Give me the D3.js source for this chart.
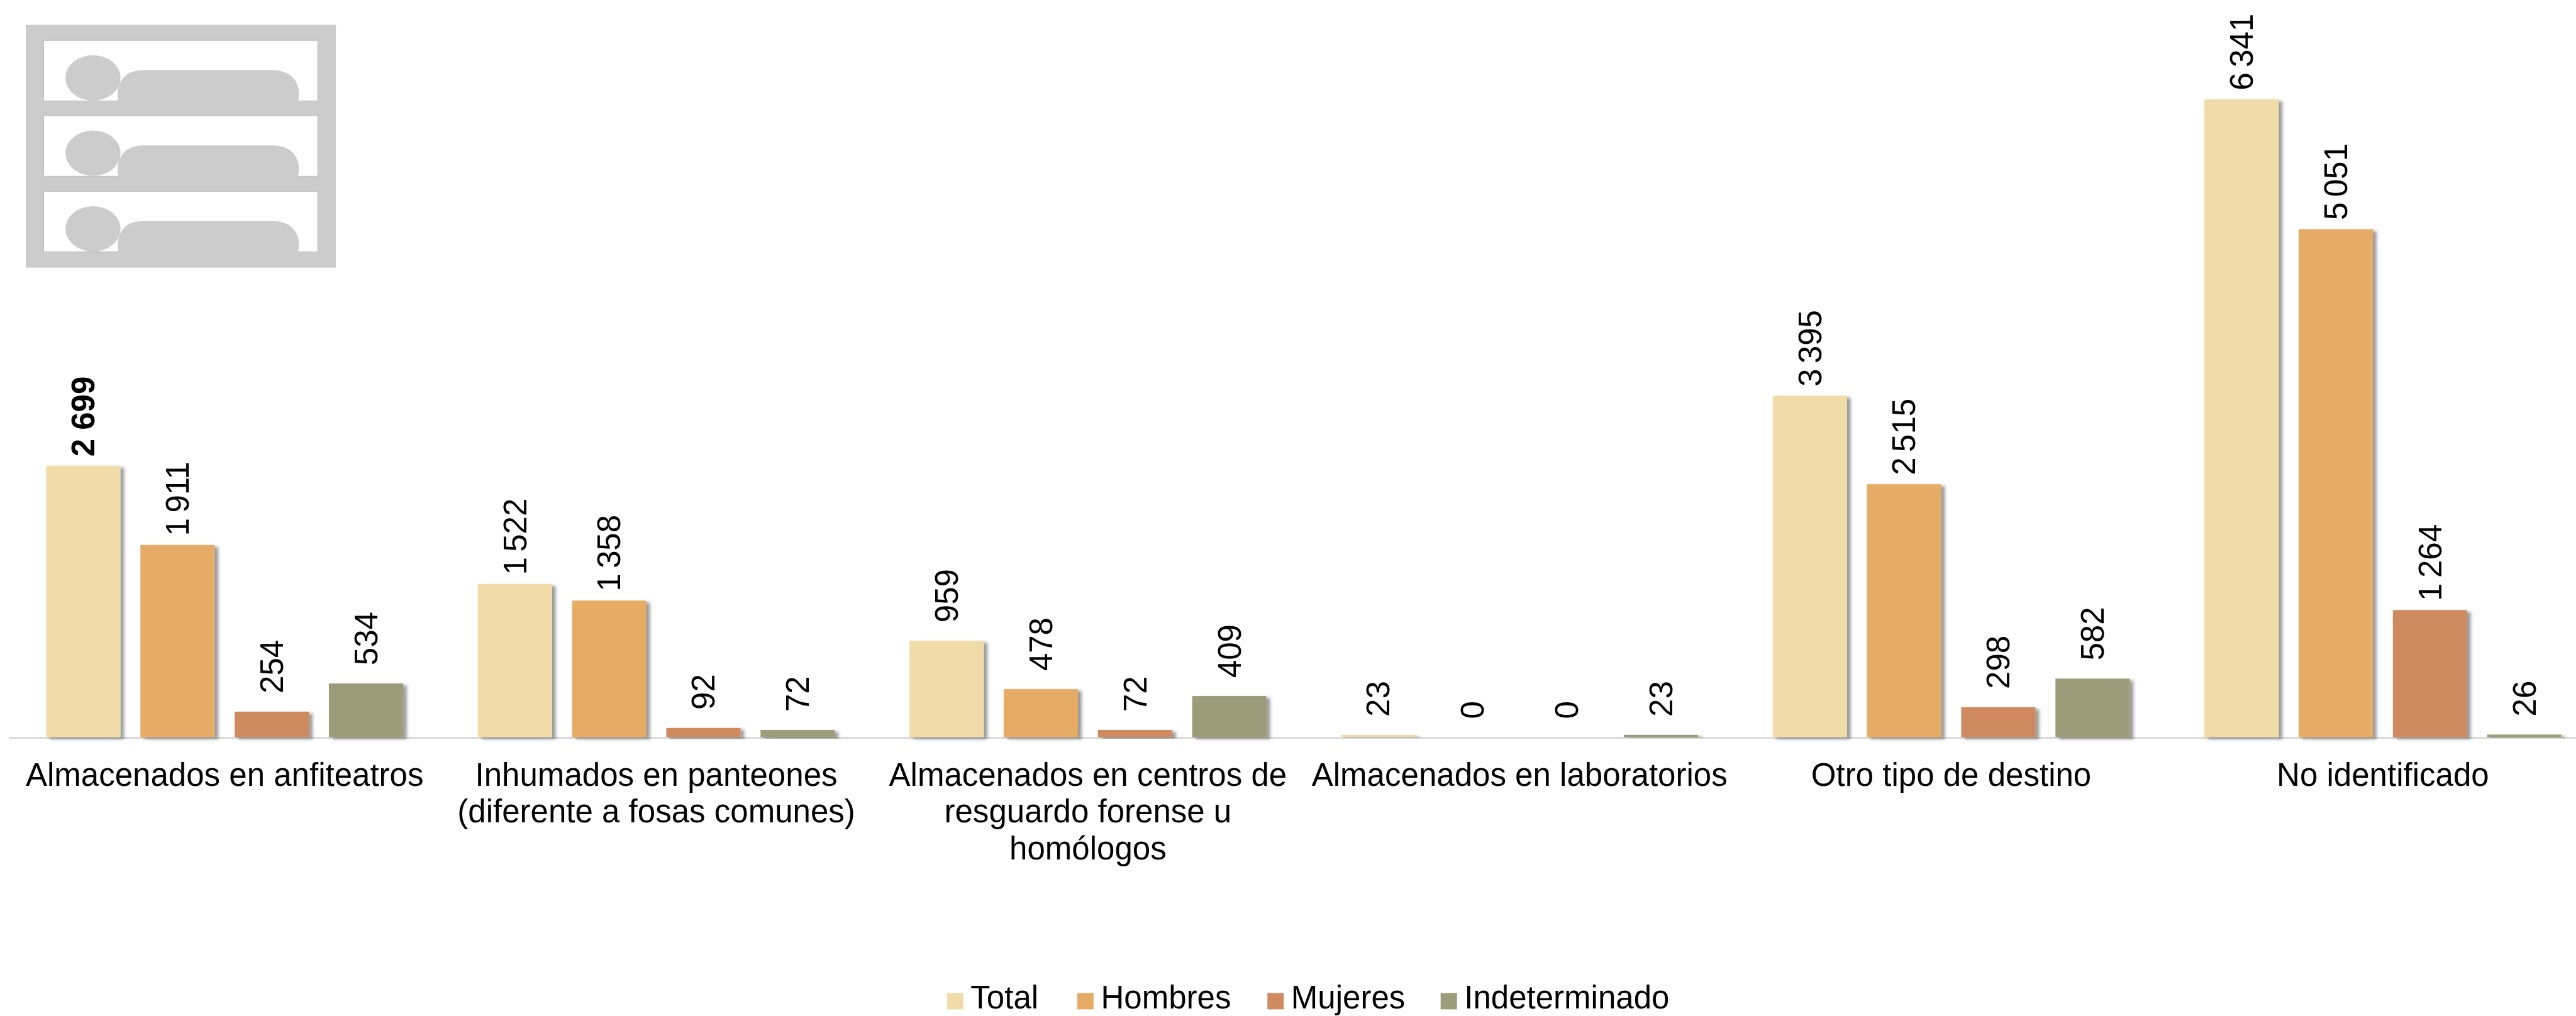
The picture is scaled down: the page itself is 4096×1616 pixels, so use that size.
<!DOCTYPE html>
<html>
<head>
<meta charset="utf-8">
<script src="https://d3js.org/d3.v7.min.js"></script>
<style>
  html, body { margin: 0; padding: 0; background: #fff; overflow: hidden; }
  svg { display: block; }
  text { font-family: "Liberation Sans", Arial, sans-serif; fill: #000; }
</style>
</head>
<body>
<div id="chart"></div>
<script>
// values
var categories = ["anfiteatros", "panteones", "resguardo", "laboratorios", "otro", "noid"];
var categoryLines = [
  ["Almacenados en anfiteatros"],
  ["Inhumados en panteones", "(diferente a fosas comunes)"],
  ["Almacenados en centros de", "resguardo forense u", "homólogos"],
  ["Almacenados en laboratorios"],
  ["Otro tipo de destino"],
  ["No identificado"]
];
var seriesNames = ["Total", "Hombres", "Mujeres", "Indeterminado"];
var seriesColors = ["#f0dca8", "#e6ac66", "#cf8a60", "#9d9c7a"];
var total = [2699, 1522, 959, 23, 3395, 6341];
var hombres = [1911, 1358, 478, 0, 2515, 5051];
var mujeres = [254, 92, 72, 0, 298, 1264];
var indeterminado = [534, 72, 409, 23, 582, 26];
var seriesValues = [total, hombres, mujeres, indeterminado];

// the reference is 4252x1678, the viewBox shrinks it to the window
var svg = d3.select("#chart").append("svg")
  .attr("width", 4096)
  .attr("height", 1616)
  .attr("viewBox", "0 0 4252 1678");

var filter = svg.append("defs").append("filter")
  .attr("id", "shadow")
  .attr("x", "-20%").attr("y", "-20%")
  .attr("width", "140%").attr("height", "140%");
filter.append("feDropShadow")
  .attr("dx", 6).attr("dy", 3)
  .attr("stdDeviation", 3)
  .attr("flood-color", "#000")
  .attr("flood-opacity", 0.4);

var x0 = d3.scaleBand().domain(categories).range([14, 4290]);
var x1 = d3.scaleBand().domain(seriesNames).range([0, x0.bandwidth()])
  .paddingInner(0.212).paddingOuter(0.396);
var y = d3.scaleLinear().domain([0, 7330]).range([1217.5, 0]);

/* shelf icon top left */
var icon = svg.append("g");
icon.append("rect").attr("x", 42).attr("y", 41).attr("width", 512).attr("height", 401).attr("fill", "#cccccc");
[66.7, 191, 316].forEach(function(top) {
  icon.append("rect").attr("x", 71.6).attr("y", top).attr("width", 452.4).attr("height", 100)
    .attr("fill", "#fff").attr("stroke", "#b8b8b8").attr("stroke-width", 1);
  icon.append("ellipse").attr("cx", 153).attr("cy", top + 62).attr("rx", 45.5).attr("ry", 37.5)
    .attr("fill", "#cccccc");
  icon.append("path")
    .attr("d", "M195," + (top + 102) + "C191," + (top + 86) + " 193," + (top + 50) + " 235," + (top + 49)
      + "L450," + (top + 49) + "C494," + (top + 50) + " 496," + (top + 86) + " 491," + (top + 102) + "Z")
    .attr("fill", "#cccccc");
});

/* axis first so the bars sit on top of the line */
var axis = svg.append("g")
  .attr("transform", "translate(0,1218)")
  .call(d3.axisBottom(x0).tickSize(0).tickFormat(""));
axis.select(".domain").attr("stroke", "#d9d9d9").attr("stroke-width", 3);

axis.selectAll(".tick text").remove();
axis.selectAll(".tick").append("text")
  .attr("text-anchor", "middle")
  .attr("font-size", 53)
  .each(function(d) {
    var lines = categoryLines[categories.indexOf(d)];
    var t = d3.select(this);
    lines.forEach(function(line, i) {
      t.append("tspan").attr("x", 0).attr("y", 80 + i * 60.7).text(line);
    });
  });

/* bars */
var groups = svg.selectAll(".group")
  .data(seriesNames)
  .enter().append("g")
  .attr("class", "group")
  .attr("fill", function(d, i) { return seriesColors[i]; });

groups.each(function(name, s) {
  d3.select(this).selectAll("rect")
    .data(seriesValues[s])
    .enter().append("rect")
    .attr("x", function(d, i) { return x0(categories[i]) + x1(name); })
    .attr("y", function(d) { return y(d); })
    .attr("width", x1.bandwidth())
    .attr("height", function(d) { return y(0) - y(d); })
    .attr("filter", function(d) { return d > 0 ? "url(#shadow)" : null; });
});

/* value labels, rotated. short ones sit further from the bar, as in the original */
var spaced = function(v) { return d3.format(",")(v).replace(/,/g, " "); };
seriesNames.forEach(function(name, s) {
  svg.selectAll(".label" + s)
    .data(seriesValues[s])
    .enter().append("text")
    .attr("class", "label" + s)
    .attr("transform", function(d, i) {
      var cx = x0(categories[i]) + x1(name) + x1.bandwidth() / 2;
      var gap = d >= 1000 ? 15 : 30;
      return "translate(" + cx + "," + (y(d) - gap) + ") rotate(-90)";
    })
    .attr("dy", "0.35em")
    .attr("font-size", 53)
    .attr("word-spacing", function(d, i) { return s == 0 && i == 0 ? 0 : -6; })
    .attr("font-weight", function(d, i) { return s == 0 && i == 0 ? "bold" : "normal"; })
    .text(spaced);
});

/* legend */
var legendX = [1563, 1778, 2092, 2378];
var legend = svg.selectAll(".legend")
  .data(seriesNames)
  .enter().append("g")
  .attr("class", "legend")
  .attr("transform", function(d, i) { return "translate(" + legendX[i] + ",0)"; });
legend.append("rect")
  .attr("y", 1640).attr("width", 27).attr("height", 27)
  .attr("fill", function(d, i) { return seriesColors[i]; });
legend.append("text")
  .attr("x", 39)
  .attr("y", 1666)
  .attr("font-size", 53)
  .text(function(d) { return d; });
</script>
</body>
</html>
